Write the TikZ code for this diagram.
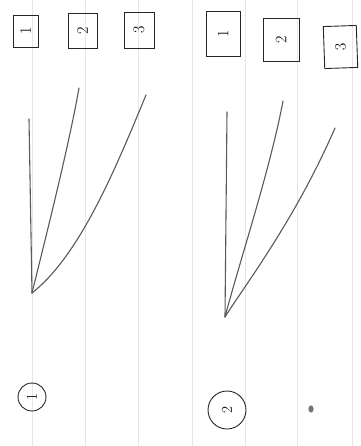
\documentclass[tikz,border=0pt]{standalone}
\usetikzlibrary{positioning}

\begin{document}
\begin{tikzpicture}[
      x=1pt, y=-1pt,
      paperline/.style={draw=blue!10!gray!18, line width=0.6pt},
      numbox/.style={draw=black!85, line width=0.9pt, inner sep=0pt, font=\fontsize{16}{16}\selectfont},
      numcircle/.style={circle, draw=black!85, line width=0.9pt, inner sep=0pt, font=\fontsize{15}{15}\selectfont},
      stroke/.style={draw=black!65, line width=1.1pt, line cap=round},
    ]
    \useasboundingbox (0,0) rectangle (360,446);

    % Ruled paper
    \foreach \x in {32,85,138,192,245,297,352} {
      \draw[paperline] (\x,0) -- (\x,446);
    }

    % Left sketch: numbered boxes
    \node[numbox, minimum width=25pt, minimum height=32pt] (a1) at (25.5,31) {\rotatebox{90}{1}};
    \node[numbox, minimum width=29pt, minimum height=35pt] (a2) at (82.5,30.5) {\rotatebox{90}{2}};
    \node[numbox, minimum width=30pt, minimum height=36pt] (a3) at (139,30) {\rotatebox{90}{3}};

    % Left sketch: fan of strokes
    \coordinate (aroot) at (32,293);
    \coordinate (aend1) at (29,119);
    \coordinate (aend2) at (79,88);
    \coordinate (aend3) at (146,95);
    \draw[stroke] (aroot) -- (aend1);
    \draw[stroke] (aroot) .. controls (45,240) and (68,150) .. (aend2);
    \draw[stroke] (aroot) .. controls (80,255) and (115,170) .. (aend3);

    % Left sketch: label
    \node[numcircle, minimum size=28pt] (alabel) at (32,397) {\rotatebox{90}{1}};

    % Right sketch: numbered boxes
    \node[numbox, minimum width=34pt, minimum height=45pt] (b1) at (223,33.5) {\rotatebox{90}{1}};
    \node[numbox, minimum width=36pt, minimum height=43pt] (b2) at (281,39.5) {\rotatebox{90}{2}};
    \node[numbox, minimum width=33pt, minimum height=42pt, rotate=2] (b3) at (340.5,47) {\rotatebox{90}{3}};

    % Right sketch: fan of strokes
    \coordinate (broot) at (225,317);
    \coordinate (bend1) at (227,112);
    \coordinate (bend2) at (283,101);
    \coordinate (bend3) at (335,128);
    \draw[stroke] (broot) -- (bend1);
    \draw[stroke] (broot) .. controls (240,260) and (270,170) .. (bend2);
    \draw[stroke] (broot) .. controls (245,285) and (295,220) .. (bend3);

    % Right sketch: label
    \node[numcircle, minimum size=38pt] (blabel) at (227,410) {\rotatebox{90}{2}};

    % Pencil dot
    \fill[black!55] (311,409) ellipse (2.6 and 3.6);
  \end{tikzpicture}
\end{document}
